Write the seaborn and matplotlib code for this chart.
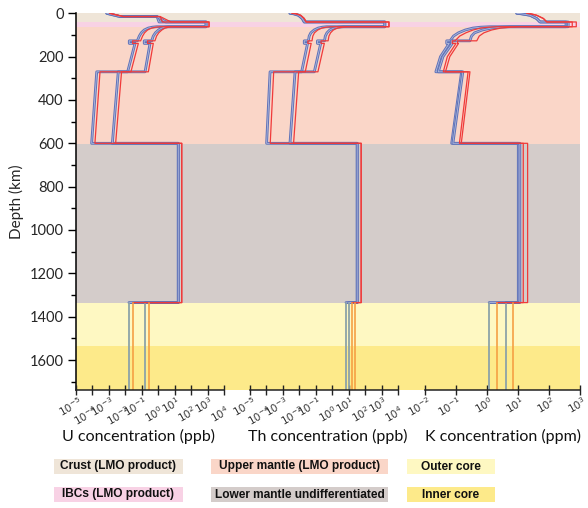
import numpy as np
import matplotlib
matplotlib.use('Agg')
import matplotlib.pyplot as plt
import matplotlib.patheffects as pe
from matplotlib.patches import Rectangle
from matplotlib.transforms import offset_copy
from matplotlib.ticker import MultipleLocator, FixedLocator, NullFormatter, NullLocator
import seaborn as sns

# Layers of the Moon (depth in km)
LAYER_NAMES = ['Crust (LMO product)', 'IBCs (LMO product)', 'Upper mantle (LMO product)',
               'Lower mantle undifferentiated', 'Outer core', 'Inner core']
LAYER_TOP = [0, 40, 62, 603, 1335, 1535]
LAYER_BOTTOM = [40, 62, 603, 1335, 1535, 1737]
LAYER_COLORS = ['#efe5d8', '#f8d2e5', '#fad6c8', '#d4ccca', '#fef8c2', '#fdea8a']

# U concentration, log10(ppb)
U_DEPTH = [0, 15, 15, 40, 40, 62, 62, 64, 68, 77, 90, 105, 127, 127, 139, 139, 270, 270, 600, 600, 1335, 1335]
U_LEFT_BLUE = [-3.13, -2.32, -0.07, 0.05, 2.91, 2.91, -0.09, -0.35, -0.60, -0.85, -1.03, -1.15, -1.27, -1.76,
               -1.76, -1.41, -1.86, -3.74, -4.05, 1.22, 1.22, -1.78]
U_LEFT_RED = [-2.95, -2.12, 0.12, 0.25, 3.09, 3.09, 0.11, -0.15, -0.40, -0.65, -0.83, -0.95, -1.07, -1.56,
              -1.56, -1.21, -1.66, -3.54, -3.85, 1.43, 1.43, -1.55]
U_RIGHT_BLUE = [-3.13, -2.32, -0.07, 0.46, 2.91, 2.91, 0.61, 0.40, 0.22, 0.02, -0.17, -0.30, -0.40, -0.85,
                -0.85, -0.50, -0.80, -2.43, -2.79, 1.22, 1.22, -0.80]
U_RIGHT_RED = [-2.95, -2.12, 0.12, 0.78, 3.09, 3.09, 0.81, 0.60, 0.42, 0.22, 0.03, -0.10, -0.20, -0.65,
               -0.65, -0.30, -0.60, -2.23, -2.59, 1.43, 1.43, -0.54]

# Th concentration, log10(ppb)
TH_DEPTH = [0, 2, 9, 24, 40, 40, 62, 62, 64, 68, 77, 90, 105, 127, 127, 139, 139, 270, 270, 600, 600, 1335, 1335]
TH_LEFT_BLUE = [-2.57, -2.35, -2.05, -1.82, -1.70, 3.20, 3.20, -0.34, -0.60, -0.85, -1.10, -1.30, -1.40, -1.45,
                -1.70, -1.70, -1.50, -1.86, -3.78, -3.99, 1.52, 1.52, 0.84]
TH_LEFT_RED = [-2.45, -2.22, -1.92, -1.70, -1.58, 3.45, 3.45, -0.12, -0.38, -0.63, -0.88, -1.08, -1.18, -1.23,
               -1.48, -1.48, -1.28, -1.64, -3.56, -3.77, 1.76, 1.76, 1.20]
TH_RIGHT_BLUE = [-2.57, -2.35, -2.05, -1.82, -1.70, 3.20, 3.20, 0.68, 0.40, 0.10, -0.15, -0.32, -0.42, -0.47,
                 -0.90, -0.90, -0.70, -1.09, -2.26, -2.57, 1.52, 1.52, 1.00]
TH_RIGHT_RED = [-2.45, -2.22, -1.92, -1.70, -1.58, 3.45, 3.45, 0.90, 0.62, 0.32, 0.07, -0.10, -0.20, -0.25,
                -0.68, -0.68, -0.48, -0.87, -2.04, -2.35, 1.76, 1.76, 1.36]

# K concentration, log10(ppm)
K_DEPTH = [0, 2, 9, 24, 40, 40, 62, 62, 64, 68, 77, 90, 105, 127, 127, 139, 139, 200, 270, 270, 600, 600, 1335, 1335]
K_LEFT_BLUE = [0.96, 1.10, 1.39, 1.60, 1.71, 2.55, 2.55, 0.10, -0.20, -0.45, -0.70, -0.92, -1.08, -1.19,
               -1.30, -1.30, -1.22, -1.50, -1.65, -0.82, -1.14, 1.01, 1.01, 0.07]
K_LEFT_RED = [1.28, 1.40, 1.60, 1.82, 1.93, 2.75, 2.75, 0.36, 0.05, -0.20, -0.45, -0.68, -0.88, -1.03,
              -1.12, -1.12, -1.00, -1.28, -1.41, -0.61, -0.89, 1.17, 1.17, 0.31]
K_RIGHT_BLUE = [0.96, 1.10, 1.39, 1.60, 1.71, 2.62, 2.62, 0.74, 0.45, 0.15, -0.15, -0.40, -0.50, -0.55,
                -1.15, -1.15, -1.12, -1.42, -1.57, -0.78, -1.10, 1.06, 1.06, 0.61]
K_RIGHT_RED = [1.28, 1.40, 1.60, 1.82, 1.93, 2.88, 2.88, 1.06, 0.75, 0.45, 0.15, -0.10, -0.25, -0.33,
               -0.95, -0.95, -0.92, -1.20, -1.34, -0.55, -0.83, 1.31, 1.31, 0.85]

CORE_TOP, CENTER = 1335, 1737

BLUE, RED = '#5f72b8', '#f03a3a'
CORE_BLUE, CORE_RED = '#8da3a8', '#f5a044'

sns.set_theme(style='white')
plt.rcParams['font.family'] = ['Lato', 'DejaVu Sans']

W, H = 588, 508
fig = plt.figure(figsize=(W / 100, H / 100), dpi=100)


def box(x0, y0, x1, y1):
    # pixel box -> figure fraction
    return [x0 / W, 1 - y1 / H, (x1 - x0) / W, (y1 - y0) / H]


TOP, BOT = 13.3, 389.7

# background layers + depth axis
ax_bg = fig.add_axes(box(76, TOP, 580, BOT))
for t, b, c in zip(LAYER_TOP, LAYER_BOTTOM, LAYER_COLORS):
    ax_bg.axhspan(t, b, color=c, lw=0)
ax_bg.set_xlim(0, 1)
ax_bg.set_ylim(CENTER, 0)
ax_bg.set_xticks([])
ax_bg.yaxis.set_major_locator(MultipleLocator(200))
ax_bg.yaxis.set_minor_locator(MultipleLocator(100))
ax_bg.tick_params(axis='y', which='major', left=True, direction='out', length=6, width=1,
                  color='black', labelsize=10.5, pad=3)
ax_bg.tick_params(axis='y', which='minor', left=True, direction='out', length=3.5, width=1, color='black')
for s in ['top', 'right', 'bottom']:
    ax_bg.spines[s].set_visible(False)
ax_bg.spines['left'].set_color('black')
ax_bg.spines['left'].set_linewidth(1.1)
ax_bg.set_ylabel('Depth (km)', fontsize=11)

hollow = [pe.Stroke(linewidth=2.0, foreground=BLUE), pe.Stroke(linewidth=0.6, foreground='white', alpha=0.5)]

panels = [
    (76, 224, -5, 4, True, 'U concentration (ppb)', 139, U_DEPTH,
     [U_LEFT_BLUE, U_RIGHT_BLUE], [U_LEFT_RED, U_RIGHT_RED]),
    (250, 398, -5, 4, True, 'Th concentration (ppb)', 328, TH_DEPTH,
     [TH_LEFT_BLUE, TH_RIGHT_BLUE], [TH_LEFT_RED, TH_RIGHT_RED]),
    (425, 580, -2, 3, False, 'K concentration (ppm)', 503, K_DEPTH,
     [K_LEFT_BLUE, K_RIGHT_BLUE], [K_LEFT_RED, K_RIGHT_RED]),
]

for x0, x1, lo, hi, stagger, label, lx, depth, blues, reds in panels:
    ax = fig.add_axes(box(x0, TOP, x1, BOT))
    ax.patch.set_alpha(0)
    ax.set_xscale('log')

    for prof in blues:
        sns.lineplot(x=10.0 ** np.array(prof), y=depth, sort=False, estimator=None, ax=ax,
                     color=BLUE, lw=2.0, path_effects=hollow)
        sns.lineplot(x=[10.0 ** prof[-1]] * 2, y=[CORE_TOP, CENTER], sort=False, estimator=None, ax=ax,
                     color=CORE_BLUE, lw=1.3)
    for prof in reds:
        sns.lineplot(x=10.0 ** np.array(prof), y=depth, sort=False, estimator=None, ax=ax,
                     color=RED, lw=0.9)
        sns.lineplot(x=[10.0 ** prof[-1]] * 2, y=[CORE_TOP, CENTER], sort=False, estimator=None, ax=ax,
                     color=CORE_RED, lw=1.2)

    ax.set_xlim(10.0 ** lo, 10.0 ** hi)
    ax.set_ylim(CENTER, 0)
    ax.set_yticks([])
    ax.set_xlabel('')
    ax.set_ylabel('')
    for s in ['top', 'right', 'left']:
        ax.spines[s].set_visible(False)
    ax.spines['bottom'].set_color('#222222')
    ax.spines['bottom'].set_linewidth(1.1)
    ax.xaxis.set_major_locator(FixedLocator(10.0 ** np.arange(lo, hi + 1)))
    ax.xaxis.set_minor_locator(NullLocator())
    ax.xaxis.set_major_formatter(NullFormatter())
    ax.tick_params(axis='x', which='major', bottom=True, direction='inout', length=7, width=1, color='#222222')

    # rotated, staggered decade labels
    for i, n in enumerate(range(lo, hi + 1)):
        low = stagger and i % 2 == 1
        tr = offset_copy(ax.get_xaxis_transform(), fig=fig, x=4 if low else 5, y=-20 if low else -11, units='dots')
        ax.text(10.0 ** n, 0, r'$10^{%d}$' % n, transform=tr, rotation=30, rotation_mode='anchor',
                ha='right', va='center', fontsize=7.5, color='#333333')

    fig.text(lx / W, 1 - 436 / H, label, ha='center', va='center', fontsize=11.5, color='#111111')

# legend boxes
cols = [(54, 183), (211, 388), (407, 495)]
rows = [(459, 474), (487, 502)]
for k, (name, c) in enumerate(zip(LAYER_NAMES, LAYER_COLORS)):
    cx0, cx1 = cols[k // 2]
    ry0, ry1 = rows[k % 2]
    fig.patches.append(Rectangle((cx0 / W, 1 - ry1 / H), (cx1 - cx0) / W, (ry1 - ry0) / H,
                                 transform=fig.transFigure, facecolor=c, edgecolor='none'))
    fig.text((cx0 + cx1) / 2 / W, 1 - (ry0 + ry1) / 2 / H, name, ha='center', va='center',
             fontsize=8.6, fontweight='bold', family=['Liberation Sans', 'DejaVu Sans'], color='#111111')

fig.savefig('out.png', dpi=100)
